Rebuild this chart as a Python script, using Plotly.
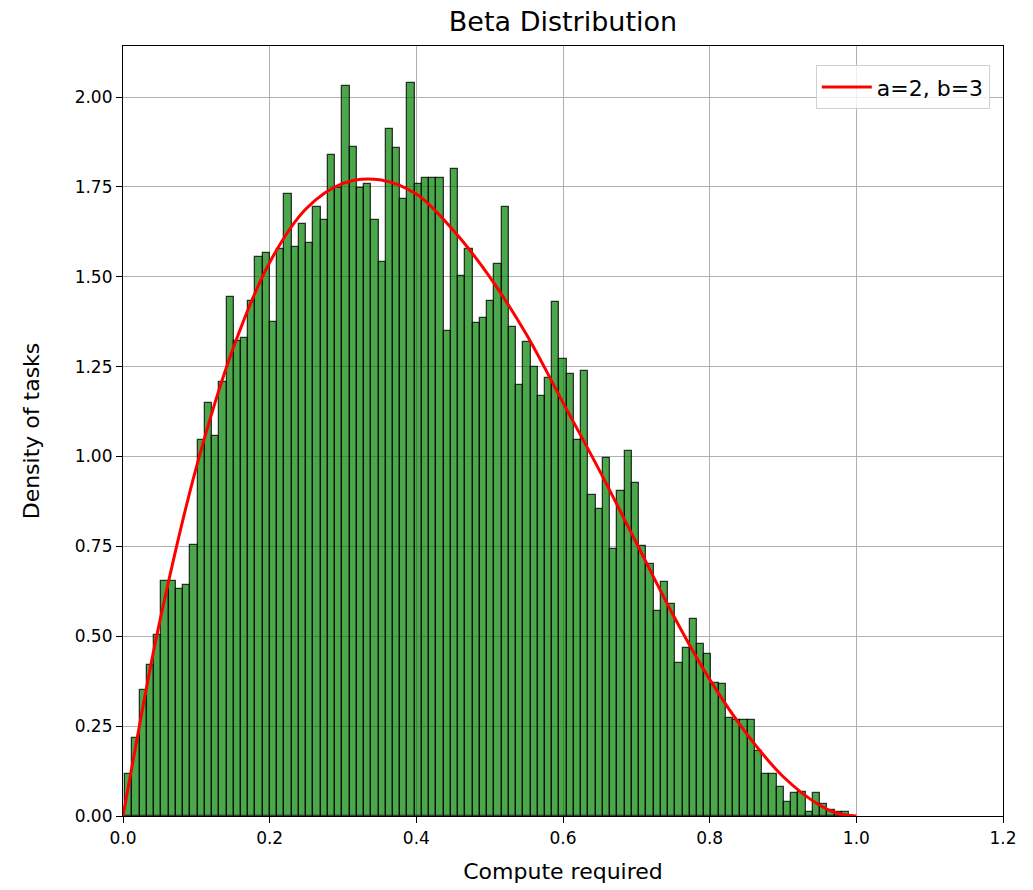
import numpy as np
import plotly.graph_objects as go

# ---- data ----
BIN_START = 0.003
BIN_END = 0.990
density = [
    0.118, 0.218, 0.350, 0.420, 0.503, 0.653, 0.653, 0.631, 0.643, 0.754,
    1.046, 1.150, 1.057, 1.208, 1.443, 1.322, 1.331, 1.433, 1.554, 1.565,
    1.373, 1.578, 1.729, 1.584, 1.647, 1.595, 1.695, 1.658, 1.840, 1.748,
    2.030, 1.860, 1.746, 1.757, 1.658, 1.542, 1.910, 1.857, 1.717, 2.040,
    1.757, 1.776, 1.776, 1.776, 1.349, 1.799, 1.503, 1.576, 1.372, 1.384,
    1.432, 1.535, 1.695, 1.361, 1.198, 1.319, 1.248, 1.168, 1.219, 1.431,
    1.272, 1.230, 1.046, 1.239, 0.893, 0.853, 0.995, 0.742, 0.905, 1.015,
    0.927, 0.752, 0.700, 0.571, 0.652, 0.590, 0.427, 0.467, 0.549, 0.478,
    0.451, 0.369, 0.366, 0.274, 0.267, 0.267, 0.267, 0.180, 0.116, 0.116,
    0.082, 0.040, 0.063, 0.068, 0.010, 0.063, 0.033, 0.017, 0.010, 0.010,
]
curve_x = [0.0, 0.025, 0.05, 0.1, 0.15, 0.2, 0.25, 0.3, 0.35, 0.4, 0.45, 0.5,
           0.55, 0.6, 0.65, 0.7, 0.75, 0.8, 0.85, 0.9, 0.95, 0.975, 1.0]
curve_y = [0.0, 0.28, 0.54, 0.97, 1.30, 1.54, 1.69, 1.76, 1.77, 1.73, 1.63, 1.50,
           1.34, 1.15, 0.96, 0.76, 0.56, 0.38, 0.23, 0.11, 0.03, 0.007, 0.0]
legend_label = "a=2, b=3"

edges = np.linspace(BIN_START, BIN_END, len(density) + 1)
centers = (edges[:-1] + edges[1:]) / 2
widths = np.diff(edges)

fig = go.Figure()
fig.add_trace(go.Bar(
    x=centers, y=density, width=widths,
    marker=dict(color="rgba(0,128,0,0.7)", line=dict(color="rgba(0,0,0,0.75)", width=1.3)),
    showlegend=False, hoverinfo="x+y",
))
fig.add_trace(go.Scatter(
    x=curve_x, y=curve_y, mode="lines", name=legend_label,
    line=dict(color="red", width=3, shape="spline", smoothing=1.0),
))

axis_common = dict(
    showline=True, linecolor="black", linewidth=1.2, mirror=True,
    ticks="outside", ticklen=6, tickwidth=1.2, tickcolor="black",
    showgrid=True, gridcolor="#b0b0b0", gridwidth=1.2, zeroline=False,
    tickfont=dict(size=17, color="black"), automargin=False,
)

fig.update_layout(
    width=1033, height=890,
    margin=dict(l=123, r=30, t=46, b=74),
    paper_bgcolor="white", plot_bgcolor="white",
    font=dict(family="DejaVu Sans", color="black", size=17),
    title=dict(text="Beta Distribution", x=(123 + 1003) / 2 / 1033, xanchor="center",
               y=1 - 22 / 890, yanchor="middle", yref="container",
               font=dict(size=27, color="black")),
    bargap=0,
    showlegend=True,
    legend=dict(x=0.985, y=0.975, xanchor="right", yanchor="top",
                bgcolor="rgba(255,255,255,0.8)", bordercolor="#d0d0d0", borderwidth=1,
                itemwidth=50, font=dict(size=22, color="black")),
    xaxis=dict(range=[0, 1.2], dtick=0.2, tick0=0, tickformat=".1f",
               title=dict(text="Compute required", standoff=17, font=dict(size=22)),
               **axis_common),
    yaxis=dict(range=[0, 2.142], dtick=0.25, tick0=0, tickformat=".2f",
               title=dict(text="Density of tasks", standoff=28, font=dict(size=22)),
               **axis_common),
)

fig.write_html("out.html")
